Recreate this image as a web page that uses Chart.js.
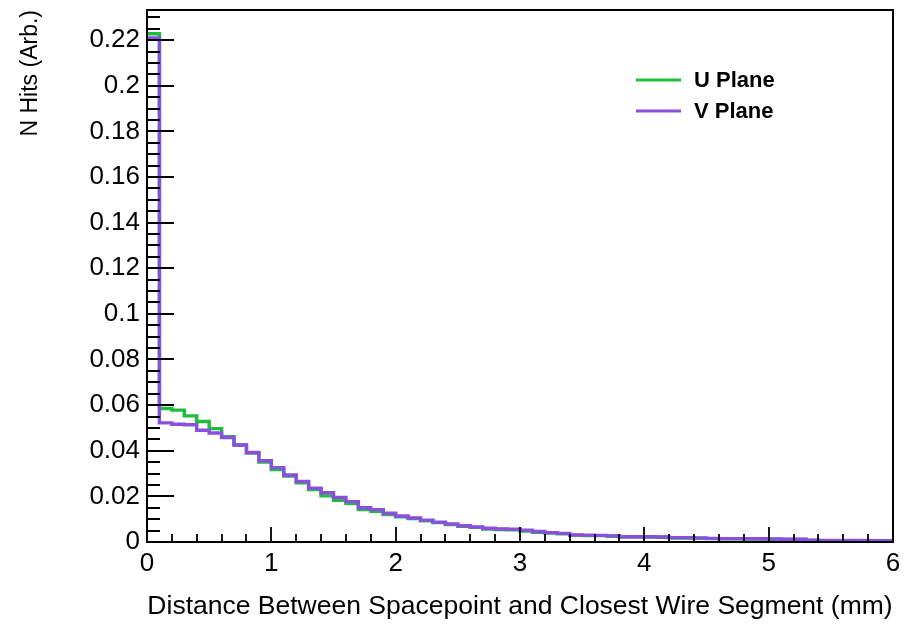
<!DOCTYPE html>
<html>
<head>
<meta charset="utf-8">
<title>Spacepoint distance</title>
<script src="https://cdn.jsdelivr.net/npm/chart.js@4.4.1/dist/chart.umd.min.js"></script>
<style>
  html, body { margin: 0; padding: 0; background: #fff; }
  canvas { display: block; }
</style>
</head>
<body>
<canvas id="distChart" width="913" height="631"></canvas>
<script>
// histogram: 60 bins of 0.1 mm from 0 to 6 mm
const binWidth = 0.1;
const uPlane = [
  0.2228, 0.0585, 0.0578, 0.0553, 0.0528, 0.0497, 0.0462, 0.0425, 0.0390, 0.0350,
  0.0318, 0.0289, 0.0259, 0.0230, 0.0202, 0.0183, 0.0168, 0.0142, 0.0135, 0.0120,
  0.0111, 0.0103, 0.0093, 0.0085, 0.0076, 0.0069, 0.0064, 0.0057, 0.0055, 0.0054,
  0.0048, 0.0043, 0.0039, 0.0036, 0.0030, 0.0028, 0.0028, 0.0025, 0.0022, 0.0022,
  0.0022, 0.0021, 0.0017, 0.0017, 0.0016, 0.0015, 0.0014, 0.0014, 0.0013, 0.0013,
  0.0012, 0.0011, 0.0011, 0.0007, 0.0006, 0.0006, 0.0006, 0.0006, 0.0006, 0.0006
];
const vPlane = [
  0.2210, 0.0522, 0.0516, 0.0514, 0.0490, 0.0478, 0.0458, 0.0425, 0.0392, 0.0356,
  0.0326, 0.0294, 0.0265, 0.0236, 0.0216, 0.0195, 0.0177, 0.0150, 0.0142, 0.0126,
  0.0114, 0.0105, 0.0096, 0.0087, 0.0079, 0.0071, 0.0066, 0.0060, 0.0057, 0.0056,
  0.0052, 0.0046, 0.0041, 0.0038, 0.0031, 0.0030, 0.0029, 0.0027, 0.0023, 0.0023,
  0.0023, 0.0022, 0.0019, 0.0019, 0.0018, 0.0016, 0.0015, 0.0015, 0.0014, 0.0014,
  0.0013, 0.0012, 0.0012, 0.0008, 0.0007, 0.0007, 0.0007, 0.0007, 0.0006, 0.0006
];
const xTicks = [0, 1, 2, 3, 4, 5, 6];
const yTicks = [0, 0.02, 0.04, 0.06, 0.08, 0.1, 0.12, 0.14, 0.16, 0.18, 0.2, 0.22];
const xRange = [0, 6];
const yRange = [0, 0.2332];

const font = '"Liberation Sans", Arial, Helvetica, sans-serif';

// turn bin contents into step points (left edge of each bin + closing edge)
function toSteps(values) {
  const pts = values.map((v, i) => ({ x: i * binWidth, y: v }));
  pts.push({ x: values.length * binWidth, y: values[values.length - 1] });
  return pts;
}

// ROOT style frame with inward ticks
const frameTicks = {
  id: "frameTicks",
  afterDatasetsDraw(chart) {
    const { ctx, chartArea: a, scales } = chart;
    const xs = scales.x, ys = scales.y;
    ctx.save();
    ctx.strokeStyle = "#000";
    ctx.lineWidth = 1.8;
    ctx.beginPath();
    // x ticks, major every 1, minor every 0.2
    for (let k = 0; k <= 30; k++) {
      const px = Math.round(xs.getPixelForValue(k * 0.2));
      const len = k % 5 === 0 ? 15 : 8;
      ctx.moveTo(px, a.bottom);
      ctx.lineTo(px, a.bottom - len);
    }
    // y ticks, major every 0.02, minor every 0.005
    for (let k = 0; k * 0.005 <= yRange[1]; k++) {
      const py = Math.round(ys.getPixelForValue(k * 0.005));
      const len = k % 4 === 0 ? 27 : 13;
      ctx.moveTo(a.left, py);
      ctx.lineTo(a.left + len, py);
    }
    ctx.stroke();
    ctx.lineWidth = 2;
    ctx.strokeRect(a.left, a.top, a.right - a.left, a.bottom - a.top);
    ctx.restore();
  }
};

// legend drawn inside the frame, top right
const boxLegend = {
  id: "boxLegend",
  afterDraw(chart) {
    const { ctx } = chart;
    ctx.save();
    ctx.font = "bold 22px " + font;
    ctx.textBaseline = "middle";
    chart.data.datasets.forEach((ds, i) => {
      const y = 80 + i * 31;
      ctx.strokeStyle = ds.borderColor;
      ctx.lineWidth = 3;
      ctx.beginPath();
      ctx.moveTo(636, y);
      ctx.lineTo(681, y);
      ctx.stroke();
      ctx.fillStyle = "#000";
      ctx.fillText(ds.label, 694, y + 1);
    });
    ctx.restore();
  }
};

new Chart(document.getElementById("distChart"), {
  type: "line",
  data: {
    datasets: [
      {
        label: "U Plane",
        data: toSteps(uPlane),
        borderColor: "#1fbd3c",
        borderWidth: 3.4,
        stepped: true,
        pointRadius: 0,
        fill: false,
        order: 1
      },
      {
        label: "V Plane",
        data: toSteps(vPlane),
        borderColor: "#8b4fe0",
        borderWidth: 3.4,
        stepped: true,
        pointRadius: 0,
        fill: false,
        order: 0
      }
    ]
  },
  options: {
    responsive: false,
    animation: false,
    layout: { padding: { top: 10, right: 20, left: 0, bottom: 0 } },
    plugins: {
      legend: { display: false },
      tooltip: { enabled: false }
    },
    scales: {
      x: {
        type: "linear",
        min: xRange[0],
        max: xRange[1],
        afterBuildTicks: (s) => { s.ticks = xTicks.map(v => ({ value: v })); },
        afterFit: (s) => { s.height = 89; },
        grid: { display: false, drawTicks: false },
        border: { display: false },
        ticks: {
          color: "#000",
          padding: 6,
          maxRotation: 0,
          font: { family: font, size: 26 }
        },
        title: {
          display: true,
          text: "Distance Between Spacepoint and Closest Wire Segment (mm)",
          color: "#000",
          font: { family: font, size: 26.5 },
          padding: { top: 0, bottom: 8 }
        }
      },
      y: {
        type: "linear",
        min: yRange[0],
        max: yRange[1],
        afterBuildTicks: (s) => { s.ticks = yTicks.map(v => ({ value: v })); },
        afterFit: (s) => { s.width = 147; s.paddingTop = 0; s.paddingBottom = 0; },
        grid: { display: false, drawTicks: false },
        border: { display: false },
        ticks: {
          color: "#000",
          padding: 7,
          font: { family: font, size: 26 },
          callback: (v) => String(+v.toFixed(2))
        },
        title: {
          display: true,
          text: "N Hits (Arb.)",
          align: "end",
          color: "#000",
          font: { family: font, size: 23 },
          padding: { top: 17, bottom: 0 }
        }
      }
    }
  },
  plugins: [frameTicks, boxLegend]
});
</script>
</body>
</html>
